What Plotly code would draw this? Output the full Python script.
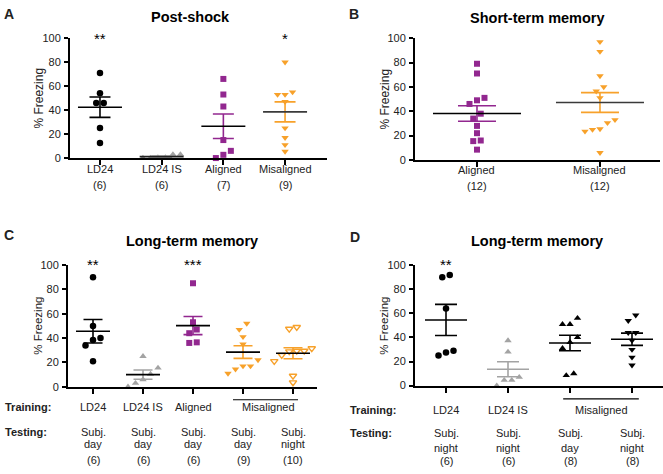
import numpy as np
import plotly.graph_objects as go

# ---------------- data ----------------
a_cats = ["LD24", "LD24 IS", "Aligned", "Misaligned"]
a_n = ["(6)", "(6)", "(7)", "(9)"]
a_stars = ["**", "", "", "*"]
a_ld24 = [71, 54, 46, 46, 25, 12.5]
a_ld24is = [3, 0.5, 0, 0, 0.5, 3]
a_aligned = [66, 53, 43, 15, 6, 2.7, 0]
a_misaligned = [80, 55, 53, 53, 47, 25, 17, 11, 5.5]

b_cats = ["Aligned", "Misaligned"]
b_n = ["(12)", "(12)"]
b_aligned = [79, 71, 51, 49, 46, 38, 34, 28, 22, 16, 15.5, 8.5]
b_misaligned = [97, 89, 69, 60, 56.5, 51, 33, 30.5, 25.5, 25, 23.5, 6]

c_training = ["LD24", "LD24 IS", "Aligned", "", ""]
c_testing1 = ["Subj.", "Subj.", "Subj.", "Subj.", "Subj."]
c_testing2 = ["day", "day", "day", "day", "night"]
c_n = ["(6)", "(6)", "(6)", "(9)", "(10)"]
c_stars = ["**", "", "***", "", ""]
c_ld24 = [90, 50, 40, 38.5, 34, 21]
c_ld24is = [25, 15.5, 10.5, 6, 3, 0]
c_aligned = [85, 53, 47, 44, 36.5, 36]
c_mis_day = [52, 47, 41, 35, 22, 17, 17, 14.5, 11]
c_mis_night = [49, 47.5, 31.5, 29.5, 29.5, 29, 26, 21, 9, 3.5]

d_training = ["LD24", "LD24 IS", "", ""]
d_testing1 = ["Subj.", "Subj.", "Subj.", "Subj."]
d_testing2 = ["night", "night", "day", "night"]
d_n = ["(6)", "(6)", "(8)", "(8)"]
d_stars = ["**", "", "", ""]
d_ld24 = [92, 90, 64, 29, 27.5, 25]
d_ld24is = [37.5, 28, 7, 4.5, 4.5, 0]
d_mis_day = [56, 51, 51, 40, 36, 31, 10, 8.5]
d_mis_night = [58.5, 54, 44, 44, 37.5, 30, 23.5, 17]

misaligned_label = "Misaligned"

# ---------------- styling ----------------
W, H = 663, 474
FONT = "Liberation Sans, Arial, sans-serif"
BLACK = "#000000"
GRAY = "#a3a3a3"
PURPLE = "#92278f"
ORANGE = "#f7a12a"
DARK = "#3a3a3a"


def X(px):
    return px / W


def Y(py):
    return 1 - py / H


fig = go.Figure()

panels = {
    "A": dict(ax="", xd=(70, 327), yd=(156, 33), xr=(-0.486, 3.68), mh=22, sh=10.5),
    "B": dict(ax="2", xd=(415, 660), yd=(158, 33), xr=(-0.504, 1.488), mh=44, sh=19),
    "C": dict(ax="3", xd=(68, 317), yd=(390.7, 265.7), xr=(-0.5, 4.48), mh=17, sh=9.5),
    "D": dict(ax="4", xd=(415, 663), yd=(389.5, 266), xr=(-0.5, 3.5), mh=21, sh=11),
}
for p in panels.values():
    p["ppx"] = (p["xd"][1] - p["xd"][0]) / (p["xr"][1] - p["xr"][0])
    p["ppy"] = (p["yd"][0] - p["yd"][1]) / 100.0


def swarm(vals, ppx, ppy, d_px=7.5, thr_px=6.5):
    vals = np.asarray(vals, float)
    order = np.argsort(vals, kind="stable")
    clusters = []
    last = None
    for i in order:
        if last is not None and (vals[i] - last) * ppy < thr_px:
            clusters[-1].append(i)
        else:
            clusters.append([i])
        last = vals[i]
    offs = np.zeros(len(vals))
    for cl in clusters:
        n = len(cl)
        for k, i in enumerate(cl):
            offs[i] = (k - (n - 1) / 2) * d_px / ppx
    return offs


def add_group(panel, pos, vals, symbol, color, mean_color, sem_color, size=6.5):
    p = panels[panel]
    xa, ya = "x" + p["ax"], "y" + p["ax"]
    offs = swarm(vals, p["ppx"], p["ppy"])
    xs = [pos + o for o in offs]
    line_w = 1.4 if symbol.endswith("open") else 0
    fig.add_trace(go.Scatter(
        x=xs, y=vals, mode="markers", xaxis=xa, yaxis=ya, cliponaxis=False,
        marker=dict(symbol=symbol, size=size, color=color,
                    line=dict(width=line_w, color=color)),
        showlegend=False, hoverinfo="y"))
    v = np.asarray(vals, float)
    m = v.mean()
    sem = v.std(ddof=1) / np.sqrt(len(v))
    sh = p["sh"] / p["ppx"]
    mh = p["mh"] / p["ppx"]
    fig.add_trace(go.Scatter(
        x=[pos - sh, pos + sh, None, pos - sh, pos + sh, None, pos, pos],
        y=[m + sem, m + sem, None, m - sem, m - sem, None, m + sem, m - sem],
        mode="lines", xaxis=xa, yaxis=ya, cliponaxis=False,
        line=dict(color=sem_color, width=1.6), showlegend=False, hoverinfo="skip"))
    fig.add_trace(go.Scatter(
        x=[pos - mh, pos + mh], y=[m, m], mode="lines", xaxis=xa, yaxis=ya,
        cliponaxis=False, line=dict(color=mean_color, width=1.6),
        showlegend=False, hoverinfo="skip"))


# Panel A
add_group("A", 0, a_ld24, "circle", BLACK, BLACK, BLACK)
add_group("A", 1, a_ld24is, "triangle-up", GRAY, "#222222", GRAY)
add_group("A", 2, a_aligned, "square", PURPLE, BLACK, PURPLE, size=6)
add_group("A", 3, a_misaligned, "triangle-down", ORANGE, DARK, ORANGE)
# Panel B
add_group("B", 0, b_aligned, "square", PURPLE, BLACK, PURPLE, size=6)
add_group("B", 1, b_misaligned, "triangle-down", ORANGE, DARK, ORANGE)
# Panel C
add_group("C", 0, c_ld24, "circle", BLACK, BLACK, BLACK)
add_group("C", 1, c_ld24is, "triangle-up", GRAY, BLACK, GRAY)
add_group("C", 2, c_aligned, "square", PURPLE, BLACK, PURPLE, size=6)
add_group("C", 3, c_mis_day, "triangle-down", ORANGE, BLACK, ORANGE)
add_group("C", 4, c_mis_night, "triangle-down-open", ORANGE, BLACK, ORANGE)
# Panel D
add_group("D", 0, d_ld24, "circle", BLACK, BLACK, BLACK)
add_group("D", 1, d_ld24is, "triangle-up", GRAY, GRAY, GRAY)
add_group("D", 2, d_mis_day, "triangle-up", BLACK, BLACK, BLACK)
add_group("D", 3, d_mis_night, "triangle-down", BLACK, BLACK, BLACK)

tickfont = dict(family=FONT, size=11, color="#222222")
layout = dict(
    width=W, height=H, margin=dict(l=0, r=0, t=0, b=0),
    paper_bgcolor="white", plot_bgcolor="white", showlegend=False,
    font=dict(family=FONT, size=11, color="#222222"),
)

ncats = {"A": 4, "B": 2, "C": 5, "D": 4}
for name, p in panels.items():
    ax = p["ax"]
    layout["xaxis" + ax] = dict(
        domain=[X(p["xd"][0]), X(p["xd"][1])], range=list(p["xr"]),
        anchor="y" + ax, showgrid=False, zeroline=False, showline=True,
        linecolor=BLACK, linewidth=2, ticks="outside", ticklen=5, tickwidth=1.5,
        tickcolor=BLACK, tickvals=list(range(ncats[name])), showticklabels=False,
        fixedrange=True)
    layout["yaxis" + ax] = dict(
        domain=[Y(p["yd"][0]), Y(p["yd"][1])], range=[0, 100],
        anchor="x" + ax, showgrid=False, zeroline=False, showline=True,
        linecolor=BLACK, linewidth=2, ticks="outside", ticklen=4, tickwidth=1.5,
        tickcolor=BLACK, tickvals=[0, 20, 40, 60, 80, 100], tickfont=tickfont,
        ticklabelstandoff=1, fixedrange=True)

fig.update_layout(**layout)

ann = []


def text(x, y, s, size=11, bold=False, xref="paper", yref="paper", xanchor="center",
         yanchor="middle", angle=0, color="#222222", yshift=0):
    ann.append(dict(x=x, y=y, xref=xref, yref=yref, text=("<b>%s</b>" % s) if bold else s,
                    showarrow=False, xanchor=xanchor, yanchor=yanchor, textangle=angle,
                    yshift=yshift, font=dict(family=FONT, size=size, color=color)))


# panel letters
text(X(2), Y(8), "A", 14, True, xanchor="left")
text(X(347), Y(8), "B", 14, True, xanchor="left")
text(X(2), Y(235), "C", 14, True, xanchor="left")
text(X(348), Y(237), "D", 14, True, xanchor="left")
# titles
text(X(190), Y(11), "Post-shock", 14.5, True, color=BLACK)
text(X(537), Y(12), "Short-term memory", 14.5, True, color=BLACK)
text(X(192), Y(241), "Long-term memory", 14.5, True, color=BLACK)
text(X(537), Y(241), "Long-term memory", 14.5, True, color=BLACK)
# y titles
text(X(39), Y(95), "% Freezing", 12, angle=-90)
text(X(385), Y(96), "% Freezing", 12, angle=-90)
text(X(38), Y(328), "% Freezing", 11.5, angle=-90)
text(X(384), Y(328), "% Freezing", 11.5, angle=-90)

# category labels + counts A, B
for i, s in enumerate(a_cats):
    text(i, Y(167), s, xref="x")
for i, s in enumerate(a_n):
    text(i, Y(184), s, xref="x")
for i, s in enumerate(b_cats):
    text(i, Y(168), s, xref="x2")
for i, s in enumerate(b_n):
    text(i, Y(185), s, xref="x2")

# stars
for i, s in enumerate(a_stars):
    if s:
        text(i, 100, s, 15, xref="x", yref="y", color=BLACK)
for i, s in enumerate(c_stars):
    if s:
        text(i, 100, s, 15, xref="x3", yref="y3", color=BLACK)
for i, s in enumerate(d_stars):
    if s:
        text(i, 100, s, 15, xref="x4", yref="y4", color=BLACK, yshift=1)

# C rows
text(X(3), Y(411), "Training:", 11, True, xanchor="left")
text(X(3), Y(437), "Testing:", 11, True, xanchor="left")
for i in range(5):
    if c_training[i]:
        text(i, Y(411), c_training[i], xref="x3")
    text(i, Y(437), c_testing1[i], xref="x3")
    text(i, Y(449.5), c_testing2[i], xref="x3")
    text(i, Y(466), c_n[i], xref="x3")
text(3.5, Y(411), misaligned_label, xref="x3")

# D rows
text(X(348), Y(415), "Training:", 11, True, xanchor="left")
text(X(348), Y(438), "Testing:", 11, True, xanchor="left")
for i in range(4):
    if d_training[i]:
        text(i, Y(415), d_training[i], xref="x4")
    text(i, Y(438), d_testing1[i], xref="x4")
    text(i, Y(453), d_testing2[i], xref="x4")
    text(i, Y(467), d_n[i], xref="x4")
text(2.5, Y(415), misaligned_label, xref="x4")

shapes = [
    dict(type="line", xref="x3", yref="paper", x0=2.8, x1=4.1, y0=Y(404), y1=Y(404),
         line=dict(color=BLACK, width=1.2)),
    dict(type="line", xref="x4", yref="paper", x0=1.89, x1=3.11, y0=Y(403), y1=Y(403),
         line=dict(color=BLACK, width=1.2)),
]
fig.update_layout(annotations=ann, shapes=shapes)

fig.write_html("out.html", config={"displayModeBar": False},
               post_script="document.body.style.margin='0';document.body.style.overflow='hidden';")
